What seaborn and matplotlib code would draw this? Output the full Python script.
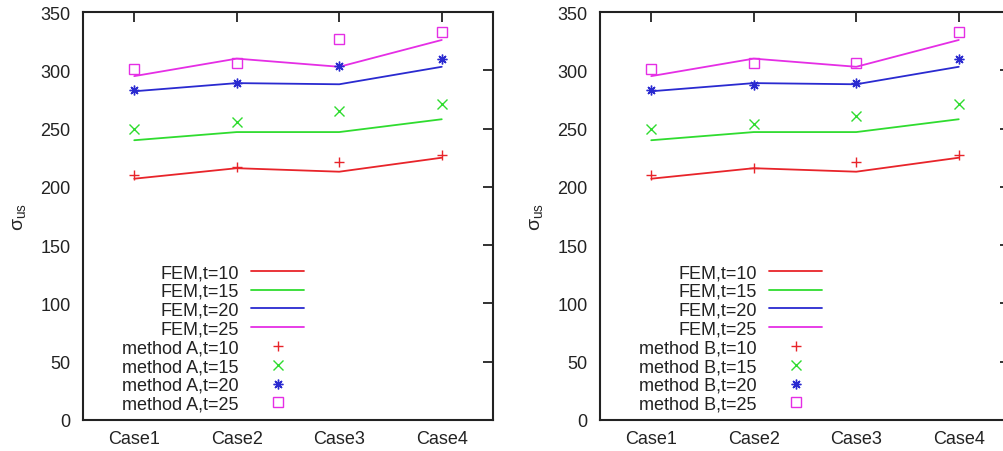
import matplotlib
matplotlib.use("Agg")
import matplotlib.pyplot as plt
import seaborn as sns
import pandas as pd

sns.set_theme(style="white")
plt.rcParams["font.family"] = ["Liberation Sans", "DejaVu Sans"]
plt.rcParams["mathtext.fontset"] = "custom"
plt.rcParams["mathtext.rm"] = "Liberation Sans"
plt.rcParams["mathtext.it"] = "Liberation Sans:italic"

# Load cases and ultimate stress values
cases = ["Case1", "Case2", "Case3", "Case4"]
thickness = [10, 15, 20, 25]

fem_t10 = [207, 216, 213, 225]
fem_t15 = [240, 247, 247, 258]
fem_t20 = [282, 289, 288, 303]
fem_t25 = [295, 310, 303, 326]

method_a_t10 = [210, 217, 221, 227]
method_a_t15 = [250, 256, 265, 271]
method_a_t20 = [283, 289, 304, 310]
method_a_t25 = [301, 306, 327, 333]

method_b_t10 = [210, 216, 221, 227]
method_b_t15 = [250, 254, 261, 271]
method_b_t20 = [283, 287, 289, 310]
method_b_t25 = [301, 306, 306, 333]

y_ticks = [0, 50, 100, 150, 200, 250, 300, 350]

colors = ["#e8242a", "#2fdc2f", "#2a2ad0", "#e52ee5"]
markers = ["+", "x", (8, 2, 0), "s"]

fem = [fem_t10, fem_t15, fem_t20, fem_t25]
methods = {
    "A": [method_a_t10, method_a_t15, method_a_t20, method_a_t25],
    "B": [method_b_t10, method_b_t15, method_b_t20, method_b_t25],
}

fig = plt.figure(figsize=(10.04, 4.52), dpi=100)
ax_a = fig.add_axes([83 / 1004, 31 / 452, 410 / 1004, 408 / 452])
ax_b = fig.add_axes([600 / 1004, 31 / 452, 410 / 1004, 408 / 452])

fs = 13
for ax, (name, series) in zip([ax_a, ax_b], methods.items()):
    for t, vals, c in zip(thickness, fem, colors):
        df = pd.DataFrame({"case": cases, "stress": vals})
        sns.lineplot(data=df, x="case", y="stress", ax=ax, color=c,
                     linewidth=1.3, label=f"FEM,t={t}", sort=False)
    for t, vals, c, m in zip(thickness, series, colors, markers):
        df = pd.DataFrame({"case": cases, "stress": vals})
        kw = dict(markerfacecolor="none", markeredgecolor=c) if m == "s" else dict(markeredgecolor=c)
        sns.lineplot(data=df, x="case", y="stress", ax=ax, color=c,
                     linestyle="", marker=m, markersize=7, markeredgewidth=1.0,
                     label=f"method {name},t={t}", sort=False, **kw)

    ax.set_xlim(-0.5, 3.5)
    ax.set_ylim(0, 350)
    ax.set_yticks(y_ticks)
    ax.set_xlabel("")
    ax.set_ylabel("σ$_{\\rm us}$", fontsize=fs + 1, labelpad=9)
    ax.tick_params(direction="in", length=7, width=1.3, colors="#222222",
                   labelsize=fs, top=True, right=True, pad=7,
                   labelcolor="#222222")
    ax.tick_params(axis="y", pad=9)
    for sp in ax.spines.values():
        sp.set_color("#222222")
        sp.set_linewidth(1.5)
        sp.set_visible(True)
    ax.grid(False)

    leg = ax.legend(loc="lower left", bbox_to_anchor=(0.078, 0.0),
                    markerfirst=False, frameon=False, fontsize=fs,
                    handlelength=2.9, handletextpad=0.7, labelspacing=0.1,
                    borderaxespad=0.0)
    for txt in leg.get_texts():
        txt.set_color("#222222")

fig.savefig("out.png", dpi=100)
